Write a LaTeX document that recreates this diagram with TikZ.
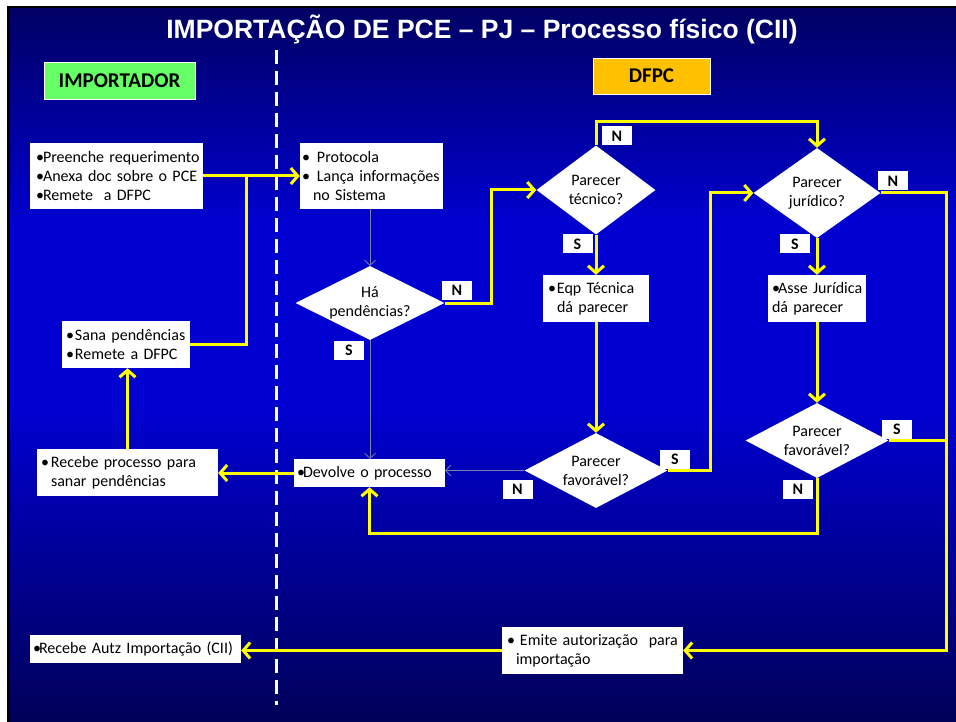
\documentclass[tikz,border=0pt]{standalone}
\usepackage{fontspec}
\setmainfont{Carlito}
\newfontfamily\titlefont{Liberation Sans}
\usetikzlibrary{arrows.meta,shapes.geometric,calc}
\definecolor{bgtop}{RGB}{0,0,100}
\definecolor{bgmid}{RGB}{0,0,208}
\definecolor{bgbot}{RGB}{0,0,88}
\definecolor{yl}{RGB}{255,255,0}
\definecolor{greenhdr}{RGB}{102,255,102}
\definecolor{orangehdr}{RGB}{255,192,0}
\definecolor{thinc}{RGB}{125,125,165}
\pgfdeclareverticalshading{bgshade}{100bp}{color(0bp)=(bgbot); color(25bp)=(bgbot); color(47bp)=(bgmid); color(60bp)=(bgmid); color(75bp)=(bgtop); color(100bp)=(bgtop)}
\newcommand{\bulw}[1]{\makebox[#1][l]{•}}
\tikzset{
  box/.style={fill=white, inner sep=0pt, align=left, font=\fontsize{16}{19}\selectfont},
  dia/.style={diamond, fill=white, inner sep=0pt},
  dtxt/.style={inner sep=0pt, align=center, font=\fontsize{16}{19}\selectfont},
  lbl/.style={fill=white, minimum width=30pt, minimum height=19pt, inner sep=0pt, font=\bfseries\fontsize{16}{16}\selectfont},
  hdr/.style={draw=white, line width=0.8pt, inner sep=0pt, font=\bfseries\fontsize{21}{21}\selectfont},
  yarr/.style={draw=yl, line width=3pt, -{Straight Barb[length=7pt,width=16pt]}},
  yline/.style={draw=yl, line width=3pt},
  garr/.style={draw=thinc, line width=0.8pt, -{Straight Barb[length=5pt,width=11pt]}},
}
\begin{document}
\begin{tikzpicture}[x=1pt,y=-1pt]
\useasboundingbox (0,0) rectangle (956,722);
\fill[white] (0,0) rectangle (956,722);
\fill[black] (7,6) rectangle (956,722);
\shade[shading=bgshade] (10,9) rectangle (956,722);

% swimlane divider
\draw[white, line width=3pt, dash pattern=on 14pt off 7pt] (276,50) -- (276,705);

% title and headers
\node[text=white, font=\titlefont\bfseries\fontsize{26.5}{26.5}\selectfont] (title) at (482,29) {IMPORTAÇÃO DE PCE – PJ – Processo físico (CII)};
\node[hdr, fill=greenhdr, minimum width=151pt, minimum height=37pt] (himp) at (119.5,80.5) {IMPORTADOR};
\node[hdr, fill=orangehdr, minimum width=117pt, minimum height=36pt] (hdfpc) at (651.5,76) {DFPC};

% process boxes
\node[box, minimum width=173pt, minimum height=66pt, text width=173pt] (preenche) at (116.5,176)
  {\hspace*{6pt}\bulw{7pt}Preenche requerimento\\\hspace*{6pt}\bulw{7pt}Anexa doc sobre o PCE\\\hspace*{6pt}\bulw{7pt}Remete\ \ a DFPC};
\node[box, minimum width=143pt, minimum height=66pt, text width=143pt] (protocola) at (371.5,176)
  {\hspace*{2pt}\bulw{15pt}Protocola\\\hspace*{2pt}\bulw{15pt}Lança informações\\\hspace*{13pt}no Sistema};
\node[box, minimum width=128pt, minimum height=47pt, text width=128pt] (sana) at (126,344.5)
  {\hspace*{4pt}\bulw{9pt}Sana pendências\\\hspace*{4pt}\bulw{9pt}Remete a DFPC};
\node[box, minimum width=181pt, minimum height=47pt, text width=181pt] (rproc) at (127.5,472.5)
  {\hspace*{4pt}\bulw{10pt}Recebe processo para\\\hspace*{14pt}sanar pendências};
\node[box, minimum width=151pt, minimum height=28pt, text width=151pt] (devolve) at (369.5,473)
  {\hspace*{3pt}\bulw{6pt}Devolve o processo};
\node[box, minimum width=211pt, minimum height=28pt, text width=211pt] (autz) at (135.5,649)
  {\hspace*{3pt}\bulw{6pt}Recebe Autz Importação (CII)};
\node[box, minimum width=106pt, minimum height=47pt, text width=106pt] (eqp) at (596,298.5)
  {\hspace*{5pt}\bulw{9pt}Eqp Técnica\\\hspace*{14pt}dá parecer};
\node[box, minimum width=98pt, minimum height=47pt, text width=98pt] (asse) at (817,298.5)
  {\hspace*{4pt}\bulw{6pt}Asse Jurídica\\\hspace*{4pt}dá parecer};
\node[box, minimum width=181pt, minimum height=47pt, text width=181pt] (emite) at (592.5,650.5)
  {\hspace*{5pt}\bulw{13pt}Emite autorização\ \ para\\\hspace*{14pt}importação};

% decisions
\node[dia, minimum width=149pt, minimum height=74pt] (d1) at (370,303) {};
\node[dtxt] (d1t) at (d1) {Há\\pendências?};
\node[dia, minimum width=119pt, minimum height=89pt] (d2) at (596,190) {};
\node[dtxt] (d2t) at (d2) {Parecer\\técnico?};
\node[dia, minimum width=127pt, minimum height=90pt] (d3) at (817,193) {};
\node[dtxt] (d3t) at (d3) {Parecer\\jurídico?};
\node[dia, minimum width=143pt, minimum height=75pt] (d4) at (596,470.5) {};
\node[dtxt] (d4t) at (d4) {Parecer\\favorável?};
\node[dia, minimum width=143pt, minimum height=75pt] (d5) at (817,440.5) {};
\node[dtxt] (d5t) at (d5) {Parecer\\favorável?};

% junction coordinates
\coordinate (j1) at (491,303);
\coordinate (j2) at (596,122);
\coordinate (j3) at (710,470.5);
\coordinate (j4) at (946,193);
\coordinate (j5) at (946,440.5);
\coordinate (j6) at (817,533);
\coordinate (j7) at (246,176);

% connectors
\draw[yarr] (preenche.east) -- (protocola.west);
\draw[yline] (sana.east) -| (j7);
\draw[garr] (d1.north |- protocola.south) -- (d1.north);
\draw[yarr] (d1.east) -- (j1) |- (d2.west);
\draw[garr] (d1.south) -- (d1.south |- devolve.north);
\draw[yarr] (d2.north) -- (j2) -| (d3.north);
\draw[yarr] (d2.south) -- (eqp.north);
\draw[yarr] (eqp.south) -- (d4.north);
\draw[yarr] (d4.east) -- (j3) |- (d3.west);
\draw[garr] (d4.west) -- (d4.west -| devolve.east);
\draw[yarr] (d3.south) -- (asse.north);
\draw[yarr] (asse.south) -- (d5.north);
\draw[yarr] (d3.east) -- (j4) |- (emite.east);
\draw[yline] (d5.east) -- (j5);
\draw[yarr] (d5.south) -- (j6) -| (devolve.south);
\draw[yarr] (devolve.west) -- (devolve.west -| rproc.east);
\draw[yarr] (rproc.north) -- (rproc.north |- sana.south);
\draw[yarr] (emite.west) -- (emite.west -| autz.east);

% branch labels
\node[lbl] (n1) at (457,290) {N};
\node[lbl] (s1) at (349,350) {S};
\node[lbl] (n2) at (617,136) {N};
\node[lbl] (s2) at (577.5,244) {S};
\node[lbl] (n3) at (893,181) {N};
\node[lbl] (s3) at (795,244) {S};
\node[lbl] (s4) at (675,459) {S};
\node[lbl] (n4) at (517.5,489) {N};
\node[lbl] (s5) at (897,429) {S};
\node[lbl] (n5) at (798,489) {N};
\end{tikzpicture}
\end{document}
